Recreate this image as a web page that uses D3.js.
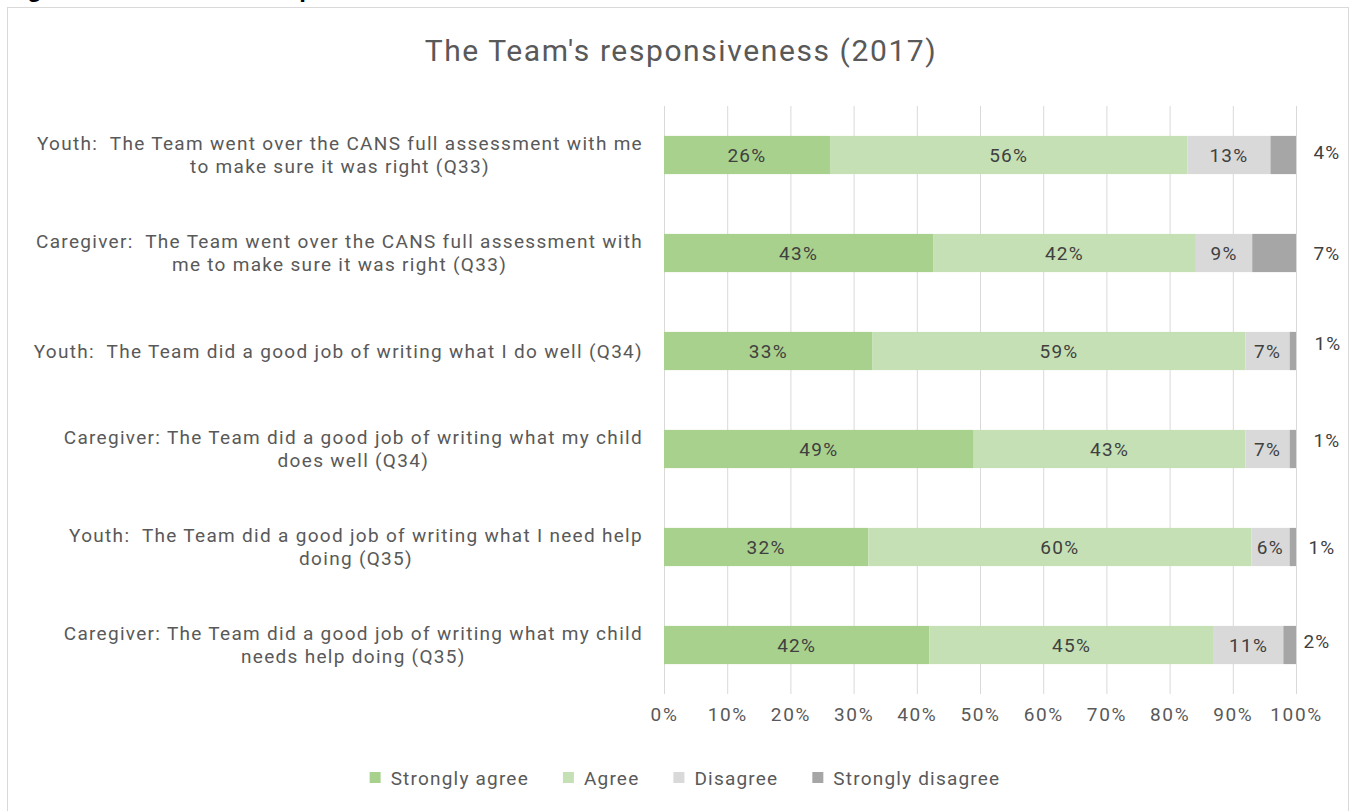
<!DOCTYPE html>
<html>
<head>
<meta charset="utf-8">
<script src="https://cdn.jsdelivr.net/npm/d3@7"></script>
<style>
  html, body { margin: 0; padding: 0; background: #fff; }
  svg { display: block; }
  text { white-space: pre; }
</style>
</head>
<body>
<script>
// Survey items (label lines separated by \n)
const categories = [
  "Youth:  The Team went over the CANS full assessment with me\nto make sure it was right (Q33)",
  "Caregiver:  The Team went over the CANS full assessment with\nme to make sure it was right (Q33)",
  "Youth:  The Team did a good job of writing what I do well (Q34)",
  "Caregiver: The Team did a good job of writing what my child\ndoes well (Q34)",
  "Youth:  The Team did a good job of writing what I need help\ndoing (Q35)",
  "Caregiver: The Team did a good job of writing what my child\nneeds help doing (Q35)"
];
const seriesNames = ["Strongly agree", "Agree", "Disagree", "Strongly disagree"];
const stronglyAgree    = [26, 43, 33, 49, 32, 42];
const agree            = [56, 42, 59, 43, 60, 45];
const disagree         = [13,  9,  7,  7,  6, 11];
const stronglyDisagree = [ 4,  7,  1,  1,  1,  2];
const tickLabels = ["0%","10%","20%","30%","40%","50%","60%","70%","80%","90%","100%"];

const W = 1354, H = 811;
const FONT = "Roboto, 'Open Sans', sans-serif";
const colors = ["#a9d18e", "#c5e0b4", "#d9d9d9", "#a6a6a6"];
// Hand-placed offsets for the "Strongly disagree" labels drawn beside each bar
const outsideNudge = [[0,-3],[0,0],[1,-8],[0,-9],[-5,0],[-10,-4]];

const svg = d3.select("body").append("svg").attr("width", W).attr("height", H);

// Report caption sitting above the chart frame
svg.append("text")
  .attr("x", 6).attr("y", -3)
  .attr("font-family", "Arial, 'Liberation Sans', sans-serif")
  .attr("font-weight", "bold").attr("font-size", 24).attr("fill", "#000")
  .text("Figure 17: The Team's responsiveness");

// Chart frame
svg.append("rect")
  .attr("x", 7.5).attr("y", 7.5).attr("width", 1341).attr("height", 820)
  .attr("fill", "#fff").attr("stroke", "#d9d9d9");

svg.append("text")
  .attr("x", 681).attr("y", 61)
  .attr("text-anchor", "middle")
  .attr("font-family", FONT).attr("font-size", 30).attr("letter-spacing", 1.6)
  .attr("fill", "#595959")
  .text("The Team's responsiveness (2017)");

const plot = { left: 664, right: 1296, top: 106, bottom: 694 };

const rows = categories.map((c, i) => ({
  cat: c,
  "Strongly agree": stronglyAgree[i],
  "Agree": agree[i],
  "Disagree": disagree[i],
  "Strongly disagree": stronglyDisagree[i]
}));

const stack = d3.stack().keys(seriesNames).offset(d3.stackOffsetExpand);
const layers = stack(rows);

const x = d3.scaleLinear().domain([0, 1]).range([plot.left, plot.right]);
const y = d3.scaleBand().domain(categories).range([plot.top, plot.bottom])
  .paddingInner(0.61).paddingOuter(0.305);

// Vertical gridlines and percentage ticks
const xAxis = d3.axisBottom(x).tickValues(d3.range(0, 1.0001, 0.1))
  .tickFormat((d, i) => tickLabels[i])
  .tickSize(-(plot.bottom - plot.top)).tickPadding(14);
const gx = svg.append("g").attr("transform", `translate(0,${plot.bottom})`).call(xAxis);
gx.select(".domain").remove();
gx.selectAll(".tick line").attr("stroke", "#d9d9d9").attr("stroke-width", 1);
gx.selectAll(".tick text")
  .attr("font-family", FONT).attr("font-size", 19).attr("letter-spacing", 1.6)
  .attr("fill", "#595959");

// Stacked bars
const gl = svg.append("g").selectAll("g").data(layers).join("g")
  .attr("fill", (d, i) => colors[i]);
gl.selectAll("rect").data(d => d).join("rect")
  .attr("x", d => x(d[0]))
  .attr("width", d => x(d[1]) - x(d[0]))
  .attr("y", d => y(d.data.cat))
  .attr("height", y.bandwidth());

// Value labels: inside for the first three series, beside the bar for the last
layers.forEach((layer, li) => {
  const key = layer.key;
  layer.forEach((d, ri) => {
    const v = d.data[key];
    const cy = y(d.data.cat) + y.bandwidth() / 2;
    const t = svg.append("text")
      .attr("dy", "0.35em").attr("text-anchor", "middle")
      .attr("font-family", FONT).attr("font-size", 19).attr("letter-spacing", 1.3)
      .attr("fill", "#404040")
      .text(v + "%");
    if (li < 3) {
      t.attr("x", (x(d[0]) + x(d[1])) / 2).attr("y", cy);
    } else {
      const [nx, ny] = outsideNudge[ri];
      t.attr("x", x(1) + 31 + nx).attr("y", cy + ny);
    }
  });
});

// Category labels: block right-aligned to the axis, lines centred within the block
const labelRight = 643, lineH = 23;
categories.forEach(c => {
  const lines = c.split("\n");
  const g = svg.append("g");
  const cy = y(c) + y.bandwidth() / 2;
  const ts = lines.map((ln, i) => g.append("text")
    .attr("y", cy + (i - (lines.length - 1) / 2) * lineH)
    .attr("dy", "0.35em").attr("text-anchor", "middle")
    .attr("font-family", FONT).attr("font-size", 19).attr("letter-spacing", 1.3)
    .attr("fill", "#595959")
    .text(ln));
  const widths = ts.map(t => t.node().getComputedTextLength());
  const bw = d3.max(widths);
  ts.forEach(t => t.attr("x", labelRight - bw / 2));
});

// Legend
const legendY = 778;
const lg = svg.append("g");
let lx = 0;
seriesNames.forEach((name, i) => {
  const g = lg.append("g").attr("transform", `translate(${lx},0)`);
  g.append("rect").attr("x", 0).attr("y", legendY - 6).attr("width", 11).attr("height", 11)
    .attr("fill", colors[i]);
  const t = g.append("text").attr("x", 21).attr("y", legendY).attr("dy", "0.35em")
    .attr("font-family", FONT).attr("font-size", 19).attr("letter-spacing", 1.2)
    .attr("fill", "#595959").text(name);
  lx += 21 + t.node().getComputedTextLength() + 34;
});
const totalW = lx - 34;
lg.attr("transform", `translate(${685 - totalW / 2},0)`);
</script>
</body>
</html>
